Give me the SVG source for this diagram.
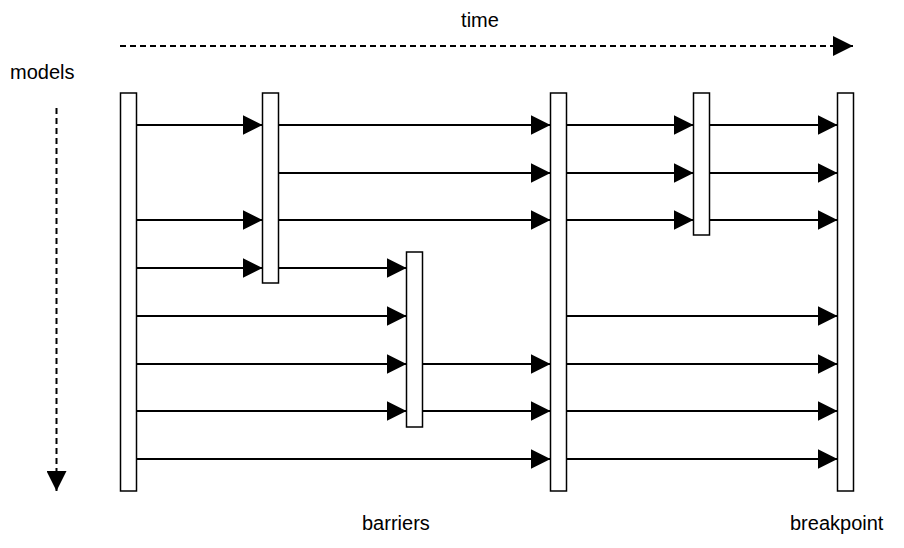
<svg xmlns="http://www.w3.org/2000/svg" width="904" height="548" viewBox="0 0 904 548">
<style>
  .bar { fill: #ffffff; stroke: #000000; stroke-width: 1.5; }
  .conn line { stroke: #000000; stroke-width: 2; marker-end: url(#arrow); }
  .dash { stroke: #000000; stroke-width: 2; stroke-dasharray: 6 4; fill: none; marker-end: url(#arrow); }
  .lbl { font-family: "Liberation Sans", Arial, sans-serif; font-size: 20px; fill: #000000; }
</style>
<defs>
  <marker id="arrow" markerUnits="userSpaceOnUse" markerWidth="20" markerHeight="20" refX="20" refY="10" orient="auto" viewBox="0 0 20 20">
    <path d="M0,0 L20,10 L0,20 Z" fill="#000000" stroke="none"/>
  </marker>
</defs>
<rect width="904" height="548" fill="#ffffff"/>

<g id="axes">
  <line class="dash" x1="120" y1="46" x2="853" y2="46"/>
  <line class="dash" x1="56.5" y1="108" x2="56.5" y2="491"/>
</g>

<g id="labels">
  <text class="lbl" x="480" y="27" text-anchor="middle">time</text>
  <text class="lbl" x="10" y="79">models</text>
  <text class="lbl" x="362" y="530">barriers</text>
  <text class="lbl" x="790" y="530">breakpoint</text>
</g>

<g id="connectors" class="conn">
  <!-- row 125 -->
  <line x1="136.5" y1="125" x2="262.5" y2="125"/>
  <line x1="278.5" y1="125" x2="550.5" y2="125"/>
  <line x1="566.5" y1="125" x2="693.5" y2="125"/>
  <line x1="709.5" y1="125" x2="837.5" y2="125"/>
  <!-- row 173 -->
  <line x1="278.5" y1="173" x2="550.5" y2="173"/>
  <line x1="566.5" y1="173" x2="693.5" y2="173"/>
  <line x1="709.5" y1="173" x2="837.5" y2="173"/>
  <!-- row 220 -->
  <line x1="136.5" y1="220" x2="262.5" y2="220"/>
  <line x1="278.5" y1="220" x2="550.5" y2="220"/>
  <line x1="566.5" y1="220" x2="693.5" y2="220"/>
  <line x1="709.5" y1="220" x2="837.5" y2="220"/>
  <!-- row 268 -->
  <line x1="136.5" y1="268" x2="262.5" y2="268"/>
  <line x1="278.5" y1="268" x2="406.5" y2="268"/>
  <!-- row 316 -->
  <line x1="136.5" y1="316" x2="406.5" y2="316"/>
  <line x1="566.5" y1="316" x2="837.5" y2="316"/>
  <!-- row 364 -->
  <line x1="136.5" y1="364" x2="406.5" y2="364"/>
  <line x1="422.5" y1="364" x2="550.5" y2="364"/>
  <line x1="566.5" y1="364" x2="837.5" y2="364"/>
  <!-- row 411 -->
  <line x1="136.5" y1="411" x2="406.5" y2="411"/>
  <line x1="422.5" y1="411" x2="550.5" y2="411"/>
  <line x1="566.5" y1="411" x2="837.5" y2="411"/>
  <!-- row 459 -->
  <line x1="136.5" y1="459" x2="550.5" y2="459"/>
  <line x1="566.5" y1="459" x2="837.5" y2="459"/>
</g>

<g id="bar1"><rect class="bar" x="120.5" y="93" width="16" height="398"/></g>
<g id="bar2"><rect class="bar" x="262.5" y="93" width="16" height="190"/></g>
<g id="bar3"><rect class="bar" x="406.5" y="252" width="16" height="175"/></g>
<g id="bar4"><rect class="bar" x="550.5" y="93" width="16" height="398"/></g>
<g id="bar5"><rect class="bar" x="693.5" y="93" width="16" height="142"/></g>
<g id="bar6"><rect class="bar" x="837.5" y="93" width="16" height="398"/></g>
</svg>
